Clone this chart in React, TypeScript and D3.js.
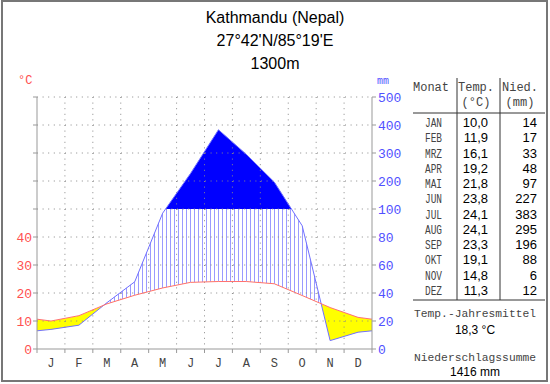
import React from 'react';
import * as d3 from 'd3';

// Klimadaten Kathmandu
const monthNames = ['JAN', 'FEB', 'MRZ', 'APR', 'MAI', 'JUN', 'JUL', 'AUG', 'SEP', 'OKT', 'NOV', 'DEZ'];
const monthLetters = ['J', 'F', 'M', 'A', 'M', 'J', 'J', 'A', 'S', 'O', 'N', 'D'];
const temps = [10.0, 11.9, 16.1, 19.2, 21.8, 23.8, 24.1, 24.1, 23.3, 19.1, 14.8, 11.3];
const precip = [14, 17, 33, 48, 97, 227, 383, 295, 196, 88, 6, 12];
const tempTicks = [0, 10, 20, 30, 40];
const precipTicks = [0, 20, 40, 60, 80, 100, 200, 300, 400, 500];
const titleLines = ['Kathmandu (Nepal)', "27°42'N/85°19'E", '1300m'];
const meanTemp = '18,3 °C';
const sumPrecip = '1416 mm';

const W = 550;
const H = 384;
const left = 37;
const right = 372;
const bottom = 349;
const top = 97;

const RED = '#ff5050';
const BLUE = '#5050ff';
const mono = '"Liberation Mono", "DejaVu Sans Mono", monospace';
const sans = '"Liberation Sans", Arial, sans-serif';

const fmt = (v: number) => d3.format('.1f')(v).replace('.', ',');

export default function App() {
  const x = d3.scaleLinear().domain([0, 12]).range([left, right]);
  const yT = d3.scaleLinear().domain([0, 50]).range([bottom, 209]);
  const yP = d3.scaleLinear().domain([0, 100, 500]).range([bottom, 209, top]);
  const y100 = yP(100);

  // Kurven laufen bis zum Rand (Mittel aus Dez/Jan)
  const edgeT = (temps[0] + temps[11]) / 2;
  const edgeP = (precip[0] + precip[11]) / 2;
  type Pt = { m: number; t: number; p: number };
  const pts: Pt[] = [
    { m: 0, t: edgeT, p: edgeP },
    ...temps.map((t, i) => ({ m: i + 0.5, t, p: precip[i] })),
    { m: 12, t: edgeT, p: edgeP },
  ];

  const lineT = d3.line<Pt>().x(d => x(d.m)).y(d => yT(d.t))(pts) || '';
  const lineP = d3.line<Pt>().x(d => x(d.m)).y(d => yP(d.p))(pts) || '';
  const between = d3.area<Pt>().x(d => x(d.m)).y0(d => yT(d.t)).y1(d => yP(d.p))(pts) || '';
  const belowTemp = d3.area<Pt>().x(d => x(d.m)).y0(bottom + 10).y1(d => yT(d.t))(pts) || '';
  const aboveTemp = d3.area<Pt>().x(d => x(d.m)).y0(0).y1(d => yT(d.t))(pts) || '';
  const wet = d3.area<Pt>().x(d => x(d.m)).y0(y100).y1(d => yP(d.p))(pts) || '';

  const gridYs = precipTicks.slice(1).map(v => yP(v));
  const hatchXs = d3.range(left + 1.5, right, 4);
  const rowY = d3.scaleLinear().domain([0, 11]).range([127, 295]);
  const tx = 475;

  return (
    <svg width={W} height={H} style={{ position: 'absolute', left: 0, top: 0, background: '#fff' }}>
      <defs>
        <clipPath id="clipBelowTemp"><path d={belowTemp} /></clipPath>
        <clipPath id="clipAboveTemp"><path d={aboveTemp} /></clipPath>
        <clipPath id="clipBetween"><path d={between} /></clipPath>
        <clipPath id="clipUnder100"><rect x={left} y={y100} width={right - left} height={bottom - y100} /></clipPath>
        <clipPath id="clipOver100"><rect x={left} y={0} width={right - left} height={y100} /></clipPath>
      </defs>

      <rect x={2} y={1} width={545} height={380} fill="#fff" stroke="#777" strokeWidth={2} />

      {titleLines.map((t, i) => (
        <text key={i} x={275} y={23 + i * 23} textAnchor="middle" fontFamily={sans} fontSize={16} fill="#000">{t}</text>
      ))}

      {/* Flaechen */}
      <path d={between} fill="#ffff00" clipPath="url(#clipBelowTemp)" />
      <g clipPath="url(#clipAboveTemp)">
        <g clipPath="url(#clipUnder100)">
          <g clipPath="url(#clipBetween)">
            {hatchXs.map((hx, i) => (
              <line key={'hx' + i} x1={hx} x2={hx} y1={top} y2={bottom} stroke="#9a9aff" strokeWidth={1} />
            ))}
          </g>
        </g>
      </g>
      <path d={wet} fill="#0000ff" clipPath="url(#clipOver100)" />

      {/* Gitter */}
      {gridYs.map((gy, i) => (
        <line key={'h' + i} x1={left} x2={right} y1={gy} y2={gy} stroke="#888" strokeDasharray="1 4.6" />
      ))}
      {d3.range(1, 12).map(i => (
        <line key={'v' + i} x1={x(i)} x2={x(i)} y1={top} y2={bottom} stroke="#888" strokeDasharray="1 4.6" />
      ))}

      <path d={lineP} fill="none" stroke="#7070ff" strokeWidth={1} />
      <path d={lineT} fill="none" stroke="#ff7070" strokeWidth={1} />

      {/* Achsen */}
      <line x1={left} x2={left} y1={top} y2={bottom} stroke="#999" />
      <line x1={right} x2={right} y1={top} y2={bottom} stroke="#999" />
      <line x1={left} x2={right} y1={bottom} y2={bottom} stroke="#999" />
      {[bottom, ...gridYs].map((gy, i) => (
        <g key={'t' + i}>
          <line x1={left - 4} x2={left} y1={gy} y2={gy} stroke="#999" />
          <line x1={right} x2={right + 4} y1={gy} y2={gy} stroke="#999" />
        </g>
      ))}
      {d3.range(0, 13).map(i => (
        <line key={'mt' + i} x1={x(i)} x2={x(i)} y1={bottom} y2={bottom + 4} stroke="#999" />
      ))}
      {monthLetters.map((m, i) => (
        <text key={'ml' + i} x={x(i + 0.5)} y={367} textAnchor="middle" fontFamily={mono} fontSize={12} fill="#444">{m}</text>
      ))}
      {tempTicks.map(v => (
        <text key={'lt' + v} x={32} y={yT(v) + 5} textAnchor="end" fontFamily={mono} fontSize={13} fill={RED}>{v}</text>
      ))}
      <text x={18} y={84} fontFamily={mono} fontSize={12} fill={RED}>°C</text>
      {precipTicks.map(v => (
        <text key={'rt' + v} x={378} y={yP(v) + 5} fontFamily={mono} fontSize={13} fill={BLUE}>{v}</text>
      ))}
      <text x={377} y={84} fontFamily={mono} fontSize={10} fill={BLUE}>mm</text>

      {/* Tabelle */}
      <text x={413} y={91} fontFamily={mono} fontSize={12} fill="#444">Monat</text>
      <text x={476} y={91} textAnchor="middle" fontFamily={mono} fontSize={12} fill="#444">Temp.</text>
      <text x={476} y={106} textAnchor="middle" fontFamily={mono} fontSize={12} fill="#444">(°C)</text>
      <text x={520} y={91} textAnchor="middle" fontFamily={mono} fontSize={12} fill="#444">Nied.</text>
      <text x={520} y={106} textAnchor="middle" fontFamily={mono} fontSize={12} fill="#444">(mm)</text>
      <line x1={457} x2={457} y1={78} y2={300} stroke="#333" />
      <line x1={500} x2={500} y1={78} y2={300} stroke="#333" />
      <line x1={413} x2={545} y1={113} y2={113} stroke="#333" />
      <line x1={413} x2={545} y1={300} y2={300} stroke="#333" />
      {monthNames.map((m, i) => (
        <g key={'row' + i}>
          <text x={425} y={rowY(i)} fontFamily={mono} fontSize={12} textLength={17} lengthAdjust="spacingAndGlyphs" fill="#444">{m}</text>
          <text x={488} y={rowY(i)} textAnchor="end" fontFamily={sans} fontSize={13} fill="#000">{fmt(temps[i])}</text>
          <text x={537} y={rowY(i)} textAnchor="end" fontFamily={sans} fontSize={13} fill="#000">{precip[i]}</text>
        </g>
      ))}
      <text x={tx} y={317} textAnchor="middle" fontFamily={mono} fontSize={11.3} fill="#444">Temp.-Jahresmittel</text>
      <text x={tx} y={334} textAnchor="middle" fontFamily={sans} fontSize={12} fill="#000">{meanTemp}</text>
      <text x={tx} y={361} textAnchor="middle" fontFamily={mono} fontSize={11.3} fill="#444">Niederschlagssumme</text>
      <text x={tx} y={376} textAnchor="middle" fontFamily={sans} fontSize={12} fill="#000">{sumPrecip}</text>
    </svg>
  );
}
